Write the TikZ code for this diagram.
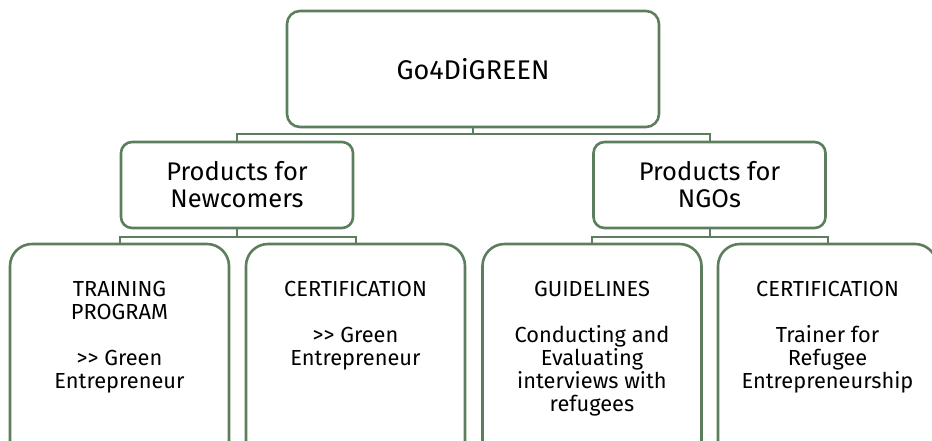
\documentclass[tikz,border=0pt]{standalone}
\usepackage{fontspec}
\setmainfont{Fira Sans}
\usetikzlibrary{positioning}
\definecolor{boxgreen}{RGB}{92,126,92}
\tikzset{
	box/.style={draw=boxgreen, line width=2.6pt, fill=white, inner sep=0pt, align=center},
	head/.style={box, rounded corners=13pt, minimum width=372pt, minimum height=116pt, font=\fontsize{27}{30}\selectfont},
	group/.style={box, rounded corners=11pt, minimum width=232pt, minimum height=86pt, font=\fontsize{25.5}{27}\selectfont},
	leaf/.style={box, rounded corners=22pt, minimum width=219pt, minimum height=260pt},
	leaftext/.style={inner sep=0pt, align=center, font=\fontsize{21.8}{23}\selectfont},
	link/.style={draw=boxgreen, line width=2pt}
}

\begin{document}
\begin{tikzpicture}[x=1pt, y=-1pt]

	\useasboundingbox (0,0) rectangle (932,440);
	\clip (0,0) rectangle (932,440);

	% top level
	\node[head] (go) at (473, 69) {Go4DiGREEN};

	% products
	\node[group] (newc) at (237, 185) {Products for\\Newcomers};
	\node[group] (ngo) at (709.5, 185) {Products for\\NGOs};

	% leaves, cut off at the bottom
	\node[leaf] (train) at (119.5, 374) {};
	\node[leaf] (certa) at (355.5, 374) {};
	\node[leaf] (guide) at (592, 374) {};
	\node[leaf] (certb) at (827.5, 374) {};

	\node[leaftext, below=38pt of train.north] (traint) {TRAINING\\PROGRAM\\[23pt]>{}> Green\\Entrepreneur};
	\node[leaftext, below=38pt of certa.north] (certat) {CERTIFICATION\\[23pt]>{}> Green\\Entrepreneur};
	\node[leaftext, below=38pt of guide.north] (guidet) {GUIDELINES\\[23pt]Conducting and\\Evaluating\\interviews with\\refugees};
	\node[leaftext, below=38pt of certb.north] (certbt) {CERTIFICATION\\[23pt]Trainer for\\Refugee\\Entrepreneurship};

	% connectors
	\draw[link] (go.south) -- ++(0,6) coordinate (j0) -| (newc.north);
	\draw[link] (j0) -| (ngo.north);

	\draw[link] (newc.south) -- ++(0,8) coordinate (j1) -| (train.north);
	\draw[link] (j1) -| (certa.north);

	\draw[link] (ngo.south) -- ++(0,8) coordinate (j2) -| (guide.north);
	\draw[link] (j2) -| (certb.north);

\end{tikzpicture}
\end{document}
